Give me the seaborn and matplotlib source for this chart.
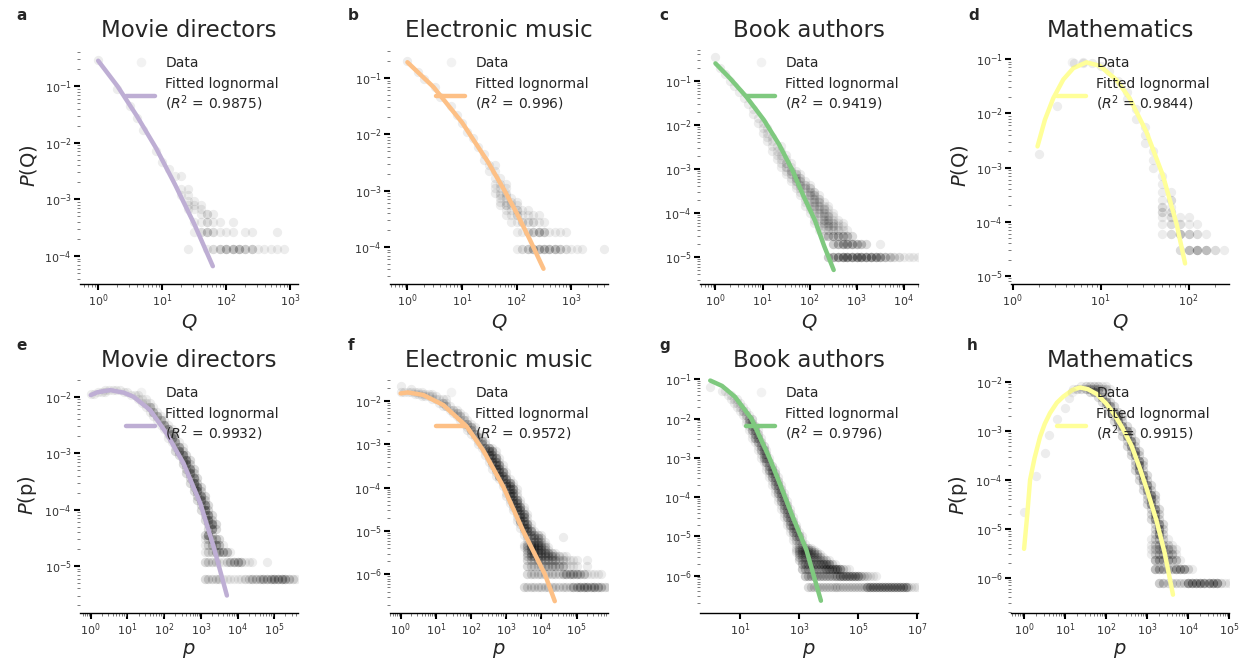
import numpy as np
import pandas as pd
import matplotlib
matplotlib.use("Agg")
import matplotlib.pyplot as plt
from matplotlib.lines import Line2D
from matplotlib.ticker import LogLocator, NullLocator, FixedLocator, NullFormatter
import seaborn as sns

# ---------------- data ----------------
# Scatter data: each row = one probability level; the digit string gives, for
# consecutive 0.1-decade x-bins starting at bin index i0 (bin i -> x = 10**(i/10)),
# how many overlapping observations sit in that bin.
TITLES = ["Movie directors", "Electronic music", "Book authors", "Mathematics"]
R2 = ["0.9875", "0.996", "0.9419", "0.9844", "0.9932", "0.9572", "0.9796", "0.9915"]
LETTERS = ["a", "b", "c", "d", "e", "f", "g", "h"]

a_row_y = [0.29, 0.09, 0.044, 0.027, 0.017, 0.0072, 0.0046, 0.0034, 0.0026, 0.0015, 0.0012,
           9.5e-4, 8.1e-4, 6.75e-4, 5.4e-4, 4.05e-4, 2.7e-4, 1.35e-4]
a_row_i0 = [0, 3, 5, 6, 7, 9, 10, 11, 12, 13, 13, 14, 14, 14, 16, 15, 15, 14]
a_row_n = ["1", "1", "1", "1", "1", "1", "1", "1", "11", "11", "11", "11", "111", "111", "121",
           "1121101", "12321110110001", "1001234443311111"]
a_fit_x = [1, 2, 4, 8, 16, 32, 62]
a_fit_y = [0.28, 0.10, 0.030, 0.0081, 0.0018, 3.6e-4, 6.6e-5]

b_row_y = [0.20, 0.13, 0.095, 0.068, 0.045, 0.032, 0.022, 0.016, 0.011, 0.0085, 0.006, 0.0045,
           0.0035, 0.0028, 0.0022, 0.0017, 0.0013, 0.0011, 9.2e-4, 8.3e-4, 7.4e-4, 6.4e-4,
           5.5e-4, 4.6e-4, 3.7e-4, 2.76e-4, 1.84e-4, 9.2e-5]
b_row_i0 = [0, 2, 3, 5, 6, 8, 9, 10, 11, 12, 13, 14, 14, 15, 15, 16, 16, 16, 16, 17, 17, 17,
            17, 18, 18, 19, 20, 20]
b_row_n = ["1", "1", "1", "1", "1", "1", "1", "1", "1", "1", "1", "1", "1", "11", "11", "11",
           "111", "111", "111", "11", "111", "1111", "1211", "11211", "1121111", "1122211",
           "1123431111", "12344444321110001"]
b_fit_x = [1, 3, 10, 30, 60, 100, 170, 310]
b_fit_y = [0.19, 0.069, 0.0162, 3.2e-3, 1.0e-3, 4.0e-4, 1.42e-4, 4.1e-5]

c_row_y = [0.35, 0.2, 0.14, 0.1, 0.075, 0.055, 0.04, 0.03, 0.023, 0.018,
           0.014, 0.011, 8.5e-3, 6.7e-3, 5.3e-3, 4.2e-3, 3.3e-3, 2.6e-3, 2.1e-3, 1.7e-3,
           1.35e-3, 1.1e-3, 9e-4, 7.5e-4, 6.2e-4, 5.2e-4, 4.3e-4, 3.6e-4, 3.0e-4, 2.5e-4,
           2.1e-4, 1.75e-4, 1.45e-4, 1.2e-4, 1.0e-4, 8.3e-5, 7.0e-5, 6.0e-5, 5.0e-5, 4.0e-5,
           3.0e-5, 2.0e-5, 1.0e-5]
c_row_i0 = [0, 1, 2, 3, 4, 5, 6, 7, 8, 8,
            9, 9, 10, 10, 11, 11, 12, 12, 13, 13,
            14, 14, 15, 15, 16, 16, 17, 17, 18, 18,
            19, 19, 19, 20, 20, 21, 21, 21, 22, 22,
            23, 25, 24]
c_row_n = ["1", "1", "1", "1", "1", "1", "1", "1", "1", "1",
           "1", "11", "11", "11", "11", "11", "111", "111", "111", "111",
           "121", "121", "121", "1221", "122", "1221", "1221", "1122", "1122", "11221",
           "1122", "11221", "112211", "11221", "112211", "11221", "112211", "1122211",
           "112211", "1122211",
           "2344432", "34555432001", "35677777776543221111"]
c_fit_x = [1, 2, 4.5, 10.7, 22.4, 42.7, 74, 129, 204, 324]
c_fit_y = [0.25, 0.117, 0.044, 0.0129, 3.6e-3, 9.5e-4, 2.4e-4, 6.8e-5, 1.74e-5, 5.0e-6]

d_row_y = [0.09, 0.085, 0.075, 0.06, 0.04, 0.025, 0.018, 0.0135, 0.012, 8e-3, 5.5e-3, 4e-3,
           2.8e-3, 2e-3, 1.8e-3, 1.4e-3, 1e-3, 7e-4, 5e-4, 3.5e-4, 2.5e-4, 1.9e-4, 1.5e-4,
           1.2e-4, 9e-5, 6e-5, 3e-5]
d_row_i0 = [8, 7, 10, 11, 12, 13, 13, 5, 14, 14, 15, 15, 15, 16, 3, 16, 16, 17, 17, 17, 17,
            17, 17, 17, 17, 17, 19]
d_row_n = ["1", "111", "1", "1", "1", "1", "1", "1", "1", "1", "1", "1", "1", "1", "1", "1",
           "1", "1", "1", "11", "12", "21", "22", "1211", "12211", "124321", "245421"]
d_fit_x = [1.92, 2.33, 2.9, 3.77, 4.9, 6.9, 9.8, 15.2, 21.4, 33, 51, 73, 91]
d_fit_y = [2.45e-3, 7.6e-3, 0.019, 0.042, 0.068, 0.087, 0.075, 0.041, 0.0188, 4.6e-3, 7.1e-4,
           9e-5, 1.7e-5]

e_row_y = [0.011, 0.0123, 0.0131, 0.0122, 0.0107, 0.0092, 0.0078,
           6.5e-3, 5.4e-3, 4.5e-3, 3.8e-3, 3.15e-3, 2.65e-3, 2.2e-3, 1.85e-3, 1.55e-3, 1.3e-3,
           1.1e-3,
           9.1e-4, 7.6e-4, 6.3e-4, 5.3e-4, 4.4e-4, 3.6e-4, 3.0e-4, 2.5e-4, 2.1e-4, 1.75e-4,
           1.45e-4, 1.2e-4, 1.0e-4,
           8e-5, 6.6e-5, 5.5e-5, 4.5e-5, 3.6e-5,
           3.0e-5, 2.4e-5, 1.8e-5, 1.2e-5, 6.0e-6]
e_row_i0 = [0, 2, 4, 9, 11, 13, 14,
            15, 16, 17, 18, 19, 20, 21, 21, 22, 23, 23,
            24, 25, 25, 26, 26, 27, 27, 28, 28, 29, 29, 30, 30,
            31, 31, 32, 32, 31,
            31, 31, 31, 31, 31]
e_row_n = (["11", "111", "11111", "11", "111", "111", "111"] +
           ["131"] * 4 + ["141"] * 6 + ["252"] * 19 +
           ["12332", "123431", "12234431", "222211234431110001",
            "22222111111223334445554321"])
e_fit_x = [1, 1.5, 3.4, 8, 14.6, 41.5, 118, 336, 960, 2220, 5100]
e_fit_y = [0.0107, 0.012, 0.0131, 0.0118, 0.0100, 5.8e-3, 2.2e-3, 6.6e-4, 1.3e-4, 2.2e-5, 3.0e-6]

f_row_y = [0.022, 0.019, 0.016, 0.0145, 0.013, 0.011,
           9.1e-3, 7.6e-3, 6.3e-3, 5.2e-3, 4.4e-3, 3.6e-3, 3.0e-3, 2.5e-3, 2.1e-3, 1.74e-3,
           1.45e-3, 1.2e-3, 1.0e-3,
           8.3e-4, 6.9e-4, 5.75e-4, 4.8e-4, 4.0e-4, 3.3e-4, 2.75e-4, 2.3e-4, 1.9e-4, 1.6e-4,
           1.3e-4, 1.1e-4,
           9.1e-5, 7.6e-5, 6.3e-5, 5.2e-5, 4.4e-5, 3.6e-5, 3.0e-5, 2.5e-5, 2.1e-5, 1.74e-5,
           1.45e-5, 1.2e-5, 1.0e-5,
           8.3e-6, 7.4e-6, 6.9e-6, 5.7e-6, 4.7e-6, 4.2e-6, 3.6e-6, 3.1e-6, 2.6e-6, 2.1e-6,
           1.56e-6, 1.04e-6, 5.2e-7]
f_row_i0 = [0, 3, 0, 4, 6, 9,
            11, 12, 14, 15, 16, 17, 18, 19, 19, 20, 21, 22, 22,
            23, 24, 24, 25, 25, 26, 26, 27, 27, 28, 29, 29,
            30, 30, 30, 31, 31, 32, 32, 33, 33, 33, 34, 34, 35,
            35, 46, 36, 36, 35, 35, 36, 36, 36, 36, 36, 36, 35]
f_row_n = (["1", "1", "1111111", "111111", "11111", "11111"] + ["121"] * 6 +
           ["131"] * 7 + ["1441"] * 25 +
           ["123321", "1", "12332", "123321", "1233321", "12333321", "2333321", "233333321",
            "233333332211", "222333333221111001", "222223333331111001",
            "2222222222344443311111", "2222222222222244555454321"])
f_fit_x = [1, 1.6, 4.4, 16.3, 75, 224, 830, 3040, 12600, 24000]
f_fit_y = [0.015, 0.0158, 0.0138, 8.1e-3, 2.6e-3, 7.2e-4, 1.05e-4, 1.0e-5, 1.0e-6, 2.4e-7]

g_row_y = [0.065, 0.05, 0.04, 0.032, 0.025, 0.02, 0.016, 0.0126, 0.01,
           7.9e-3, 6.3e-3, 5.0e-3, 4.0e-3, 3.2e-3, 2.5e-3, 2.0e-3, 1.6e-3, 1.26e-3, 1.0e-3,
           7.9e-4, 6.3e-4, 5.0e-4, 4.0e-4, 3.2e-4, 2.5e-4, 2.0e-4, 1.6e-4, 1.26e-4, 1.0e-4,
           7.9e-5, 6.3e-5, 5.0e-5, 4.0e-5, 3.2e-5, 2.5e-5, 2.0e-5, 1.6e-5, 1.26e-5, 1.0e-5,
           7.9e-6, 6.3e-6, 5.0e-6, 4.5e-6, 4.0e-6, 3.5e-6, 3.0e-6, 2.5e-6, 2.0e-6, 1.5e-6,
           1.0e-6, 5.0e-7]
g_row_i0 = [0, 4, 6, 7, 8, 9, 10, 11, 12,
            12, 13, 13, 14, 14, 15, 16, 16, 17, 17,
            18, 19, 19, 20, 20, 21, 21, 22, 22, 23,
            23, 24, 24, 25, 25, 26, 26, 27, 27, 28,
            28, 29, 29, 29, 29, 30, 30, 30, 31, 31, 32, 33]
g_row_n = ["1", "11", "11", "111", "111", "111", "121", "121", "132",
           "132", "132", "1331", "132", "1331", "132", "132", "1331", "132", "1331",
           "132", "132", "1331", "132", "1331", "132", "1331", "132", "1331", "132",
           "1331", "132", "1331", "132", "1331", "132", "1331", "132", "1331", "1331",
           "1221", "1221", "122221", "1222221", "12222221", "22222221", "222222221",
           "22222222221", "333333444421", "33333333555555211",
           "3333333333335555555322111", "22222222222222222222555555555555552111"]
g_fit_x = [1, 2.5, 6.8, 24.5, 100, 224, 617, 1780, 5500]
g_fit_y = [0.093, 0.068, 0.036, 0.010, 1.0e-3, 2.2e-4, 3.1e-5, 4.5e-6, 2.3e-7]

h_row_y = [2.2e-5, 1.2e-4, 3.5e-4, 8.3e-4, 1.8e-3, 3.0e-3, 4.7e-3, 8.3e-3, 7.2e-3,
           6.3e-3, 5.0e-3, 4.0e-3, 3.2e-3, 2.5e-3, 2.0e-3, 1.6e-3, 1.26e-3, 1.0e-3, 7.9e-4,
           6.3e-4, 5.0e-4, 4.0e-4, 3.2e-4, 2.5e-4, 2.0e-4, 1.6e-4, 1.26e-4, 1.0e-4, 7.9e-5,
           6.3e-5, 5.0e-5, 4.0e-5, 3.2e-5, 2.5e-5, 2.0e-5, 1.6e-5, 1.26e-5, 1.0e-5, 7.9e-6,
           6.2e-6, 4.6e-6, 3.85e-6, 3.1e-6, 2.3e-6, 1.54e-6, 7.7e-7]
h_row_i0 = [0, 3, 5, 6, 8, 10, 11, 14, 12,
            16, 18, 19, 20, 21, 22, 22, 23, 24, 24,
            25, 25, 26, 26, 27, 27, 27, 28, 28, 29,
            29, 30, 30, 30, 31, 31, 31, 32, 32, 32,
            31, 31, 31, 31, 32, 32, 33]
h_row_n = (["1"] * 7 + ["1222211", "1223333221"] + ["242"] * 5 + ["252"] * 25 +
           ["12321", "123321", "1233321", "1233331", "4444331", "4443355521",
            "332222266666666211"])
h_fit_x = [1, 1.2, 1.4, 1.8, 2.45, 3.2, 4.3, 6.3, 9.1, 15, 23, 36, 59, 100, 149, 250, 420,
           660, 1000, 1700, 2700, 4300]
h_fit_y = [3.9e-6, 2.0e-5, 1e-4, 2.8e-4, 7.6e-4, 1.41e-3, 2.34e-3, 3.8e-3, 5.1e-3, 6.9e-3,
           7.8e-3, 7.2e-3, 5.75e-3, 3.7e-3, 2.4e-3, 1.17e-3, 5.0e-4, 1.78e-4, 6.3e-5, 1.48e-5,
           3.2e-6, 4.5e-7]

# ---------------- style / layout ----------------
sns.set_style("ticks")
plt.rcParams["font.family"] = ["DejaVu Sans"]
plt.rcParams["mathtext.fontset"] = "dejavusans"

COLORS = ["#beaed4", "#fdc086", "#7fc97f", "#ffff99"]
X_BINS = 10 ** (np.arange(0, 71) / 10.0)

W, H = 1246, 666
fig = plt.figure(figsize=(W / 100, H / 100), dpi=100)

LEFTS = [80, 390, 700, 1011]
TOPS = [48, 378]
AW, AHS = 218, [236, 235]

XLIMS = [(0.52, 1330), (0.48, 4700), (0.47, 20000), (0.96, 287),
         (0.51, 4.4e5), (0.5, 7.8e5), (0.45, 1.05e7), (0.48, 1.0e5)]
YLIMS = [(3.2e-5, 0.47), (2.2e-5, 0.34), (2.4e-6, 0.56), (7.1e-6, 0.16),
         (1.47e-6, 0.0215), (1.28e-7, 0.034), (1.12e-7, 0.108), (1.9e-7, 0.0122)]
XT = [[1, 10, 100, 1e3], [1, 10, 100, 1e3], [1, 10, 100, 1e3, 1e4], [1, 10, 100],
      [1, 10, 100, 1e3, 1e4, 1e5], [1, 10, 100, 1e3, 1e4, 1e5], [10, 1e3, 1e5, 1e7],
      [1, 10, 100, 1e3, 1e4, 1e5]]
YT = [[1e-1, 1e-2, 1e-3, 1e-4], [1e-1, 1e-2, 1e-3, 1e-4], [1e-1, 1e-2, 1e-3, 1e-4, 1e-5],
      [1e-1, 1e-2, 1e-3, 1e-4, 1e-5], [1e-2, 1e-3, 1e-4, 1e-5],
      [1e-2, 1e-3, 1e-4, 1e-5, 1e-6], [1e-1, 1e-2, 1e-3, 1e-4, 1e-5, 1e-6],
      [1e-2, 1e-3, 1e-4, 1e-5, 1e-6]]
YLAB = ["$P$(Q)", "", "", "$P$(Q)", "$P$(p)", "", "", "$P$(p)"]
XLAB = ["$Q$"] * 4 + ["$p$"] * 4
LETTER_POS = [(16.5, 20), (347.5, 20), (659, 20), (968, 20),
              (16, 350), (347.5, 350), (659, 350), (967, 350)]

ROWS = [(a_row_y, a_row_i0, a_row_n), (b_row_y, b_row_i0, b_row_n),
        (c_row_y, c_row_i0, c_row_n), (d_row_y, d_row_i0, d_row_n),
        (e_row_y, e_row_i0, e_row_n), (f_row_y, f_row_i0, f_row_n),
        (g_row_y, g_row_i0, g_row_n), (h_row_y, h_row_i0, h_row_n)]
FITS = [(a_fit_x, a_fit_y), (b_fit_x, b_fit_y), (c_fit_x, c_fit_y), (d_fit_x, d_fit_y),
        (e_fit_x, e_fit_y), (f_fit_x, f_fit_y), (g_fit_x, g_fit_y), (h_fit_x, h_fit_y)]


def expand(row_y, row_i0, row_n):
    xs, ys = [], []
    for y, i0, s in zip(row_y, row_i0, row_n):
        for j, ch in enumerate(s):
            n = int(ch)
            xs += [X_BINS[i0 + j]] * n
            ys += [y] * n
    return pd.DataFrame({"x": xs, "y": ys})


for k in range(8):
    r, c = divmod(k, 4)
    left, top, ah = LEFTS[c], TOPS[r], AHS[r]
    ax = fig.add_axes([left / W, 1 - (top + ah) / H, AW / W, ah / H])
    ax.set_xscale("log")
    ax.set_yscale("log")
    col = COLORS[c]

    df = expand(*ROWS[k])
    sns.scatterplot(data=df, x="x", y="y", ax=ax, color="black", alpha=0.07, s=45,
                    linewidth=0, legend=False, zorder=1)
    fx, fy = FITS[k]
    sns.lineplot(x=fx, y=fy, ax=ax, color=col, linewidth=3.2, sort=False,
                 estimator=None, legend=False, zorder=2)

    ax.set_xlim(*XLIMS[k])
    ax.set_ylim(*YLIMS[k])
    ax.xaxis.set_major_locator(FixedLocator(XT[k]))
    ax.yaxis.set_major_locator(FixedLocator(YT[k]))
    if k == 6:
        ax.xaxis.set_minor_locator(NullLocator())
    else:
        ax.xaxis.set_minor_locator(LogLocator(base=10, subs=np.arange(2, 10), numticks=100))
    ax.yaxis.set_minor_locator(LogLocator(base=10, subs=np.arange(2, 10), numticks=100))
    ax.xaxis.set_minor_formatter(NullFormatter())
    ax.yaxis.set_minor_formatter(NullFormatter())

    for side in ["left", "top", "right"]:
        ax.spines[side].set_visible(False)
    ax.spines["bottom"].set_color("black")
    ax.spines["bottom"].set_linewidth(1.0)
    ax.tick_params(which="major", length=4, width=1.5, color="black", labelsize=8,
                   labelcolor="0.2", pad=2)
    ax.tick_params(which="minor", length=2, width=0.6, color="0.4")

    ax.set_title(TITLES[c], fontsize=16.5, pad=8)
    ax.set_xlabel(XLAB[k], fontsize=14, labelpad=2)
    ax.set_ylabel(YLAB[k], fontsize=14, labelpad=4)

    h_data = Line2D([], [], marker="o", ls="", color="black", alpha=0.05, markersize=7,
                    markeredgewidth=0)
    h_fit = Line2D([], [], color=col, lw=3.2)
    ax.legend([h_data, h_fit], ["Data", "Fitted lognormal\n($R^2$ = %s)" % R2[k]],
              loc="upper left", bbox_to_anchor=(0.187, 0.99), frameon=False,
              handlelength=2.1, handletextpad=0.7, fontsize=10, borderaxespad=0)

    lx, ly = LETTER_POS[k]
    fig.text(lx / W, 1 - ly / H, LETTERS[k], fontsize=11, fontweight="bold",
             va="baseline", ha="left")

fig.savefig("out.png", dpi=100)
